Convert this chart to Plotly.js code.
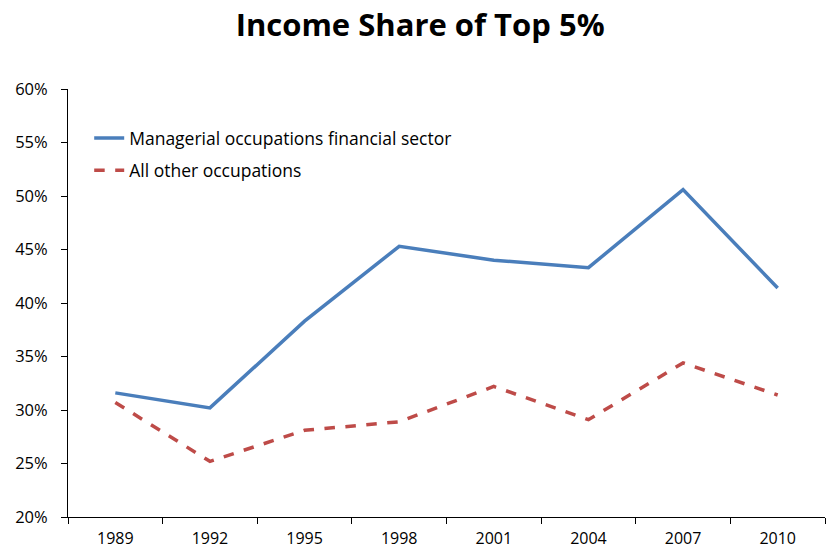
<!DOCTYPE html>
<html>
<head>
<meta charset="utf-8">
<script src="https://cdn.plot.ly/plotly-3.0.1.min.js"></script>
<style>html,body{margin:0;padding:0;background:#fff}#chart{width:827px;height:550px}</style>
</head>
<body>
<div id="chart"></div>
<script>
var years = ['1989','1992','1995','1998','2001','2004','2007','2010'];
var managerialFinancial = [31.6, 30.2, 38.3, 45.3, 44.0, 43.3, 50.6, 41.4];
var allOther = [30.7, 25.2, 28.1, 28.9, 32.2, 29.1, 34.4, 31.4];
var seriesNames = ['Managerial occupations financial sector', 'All other occupations'];
var yTicks = [20, 25, 30, 35, 40, 45, 50, 55, 60];

var FONT = 'Open Sans, Liberation Sans, sans-serif';
var traces = [
  {x: years, y: managerialFinancial, name: seriesNames[0], type: 'scatter', mode: 'lines',
   line: {color: '#4a7ebb', width: 3.5}, legend: 'legend'},
  {x: years, y: allOther, name: seriesNames[1], type: 'scatter', mode: 'lines',
   line: {color: '#be4b48', width: 3.5, dash: 'dash'}, legend: 'legend2'}
];
var legendBase = {xanchor: 'left', yanchor: 'middle', bgcolor: 'rgba(0,0,0,0)',
  font: {family: FONT, size: 17.5, color: '#000'}, itemwidth: 30};
var layout = {
  width: 827, height: 550,
  margin: {l: 68, r: 2, t: 89, b: 33},
  paper_bgcolor: '#fff', plot_bgcolor: '#fff',
  title: {text: '<b>Income Share of Top 5%</b>', x: 0.508, xanchor: 'center', y: 0.955, yanchor: 'middle',
          font: {family: FONT, size: 31, color: '#000'}},
  xaxis: {type: 'category', range: [-0.5, 7.5], tickson: 'boundaries', ticks: 'outside', ticklen: 6,
          tickcolor: '#000', showline: true, linecolor: '#000', linewidth: 1, showgrid: false,
          ticklabelstandoff: 7,
          zeroline: false, tickfont: {family: FONT, size: 16, color: '#000'}, fixedrange: true},
  yaxis: {range: [20, 60], tickvals: yTicks, ticktext: yTicks.map(function(v){return v + '%';}),
          ticks: 'outside', ticklen: 6, tickcolor: '#000', showline: true, linecolor: '#000', linewidth: 1,
          ticklabelstandoff: 10,
          showgrid: false, zeroline: false, tickfont: {family: FONT, size: 16.5, color: '#000'}, fixedrange: true},
  showlegend: true,
  legend: Object.assign({x: 0.028, y: 0.885}, legendBase),
  legend2: Object.assign({x: 0.028, y: 0.81}, legendBase)
};
Plotly.newPlot('chart', traces, layout, {displayModeBar: false, staticPlot: true});
</script>
</body>
</html>
